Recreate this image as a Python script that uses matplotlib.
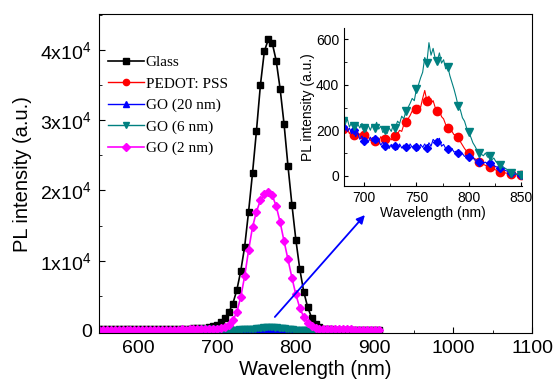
import numpy as np
import matplotlib
matplotlib.use("Agg")
import matplotlib.pyplot as plt
from matplotlib.ticker import MultipleLocator, FuncFormatter

plt.rcParams['font.family'] = ['Liberation Sans', 'DejaVu Sans']
plt.rcParams['mathtext.fontset'] = 'custom'
plt.rcParams['mathtext.rm'] = 'Liberation Sans'
plt.rcParams['mathtext.default'] = 'regular'

# Datos del grafico principal (paso de 5 nm)
wl_main = np.arange(550, 906, 5)
glass = [240, 245, 250, 245, 250, 255, 250, 255, 260, 255, 260, 265, 265,
         270, 270, 275, 280, 285, 290, 300, 310, 320, 330, 350, 370, 400,
         430, 480, 560, 680, 900, 1250, 1800, 2700, 3900, 5800, 8500, 12000,
         17000, 22500, 28500, 35000, 39800, 41500, 41000, 38500, 34500, 29500,
         23500, 18000, 13000, 8800, 5600, 3400, 1900, 1000, 550, 330, 250,
         220, 210, 200, 200, 200, 200, 200, 200, 200, 200, 200, 200, 200]
go_2nm = [200, 195, 205, 200, 190, 200, 205, 195, 200, 210, 200, 195, 205,
          200, 210, 200, 205, 200, 210, 205, 210, 215, 210, 215, 220, 225,
          230, 250, 270, 290, 330, 420, 580, 900, 1500, 2700, 4800, 7800,
          11500, 14800, 17000, 18600, 19500, 19800, 19300, 17800, 15500, 12800,
          10200, 7600, 5200, 3300, 2000, 1200, 750, 480, 350, 290, 260,
          240, 230, 225, 220, 215, 215, 210, 210, 205, 205, 200, 200, 200]

# Datos del recuadro (paso de 2 nm)
wl_inset = np.arange(680, 851, 2)
go_6nm = [240, 225, 250, 215, 232, 220, 205, 228, 210, 230, 208, 195, 222, 200,
          226, 212, 235, 205, 218, 190, 200, 185, 210, 195, 225, 212, 240, 230,
          262, 250, 285, 300, 318, 340, 330, 380, 400, 430, 455, 520, 495, 585,
          530, 560, 515, 505, 540, 495, 510, 470, 480, 440, 410, 380, 345, 305,
          290, 255, 240, 210, 192, 170, 145, 130, 112, 102, 95, 88, 100, 82,
          85, 70, 78, 62, 55, 48, 40, 35, 30, 22, 14, 12, 9, 6, 5, 4]
pedot = [205, 195, 210, 185, 200, 180, 192, 172, 185, 165, 178, 160, 172, 155,
         168, 152, 165, 150, 172, 160, 162, 150, 168, 158, 165, 175, 185, 200,
         195, 225, 235, 250, 265, 285, 275, 295, 310, 300, 340, 375, 330, 350,
         320, 330, 300, 285, 290, 260, 250, 225, 212, 200, 195, 180, 182, 172,
         150, 135, 120, 108, 98, 88, 80, 75, 68, 62, 55, 50, 46, 42,
         40, 34, 30, 25, 20, 18, 15, 13, 12, 10, 9, 8, 7, 6, 5, 4]
go_20nm = [215, 225, 195, 210, 185, 200, 172, 190, 160, 175, 152, 165, 148, 170,
           150, 160, 145, 155, 135, 148, 133, 140, 120, 138, 118, 130, 115, 140,
           122, 135, 128, 115, 140, 125, 135, 128, 112, 138, 125, 140, 120, 145,
           130, 160, 150, 147, 165, 130, 138, 120, 116, 110, 120, 104, 108, 102,
           92, 98, 85, 90, 84, 75, 80, 68, 70, 62, 65, 55, 60, 52,
           58, 48, 45, 40, 38, 36, 30, 26, 22, 17, 13, 11, 9, 7, 5, 4]

TEAL = '#008080'

fig = plt.figure(figsize=(5.56, 3.82), dpi=100)
ax = fig.add_axes([0.178, 0.128, 0.779, 0.835])

ax.plot(wl_main, glass, '-s', color='black', ms=4.2, lw=1.2, label='Glass')
ax.plot(wl_inset, pedot, '-o', color='red', ms=3, lw=1, label='PEDOT: PSS')
ax.plot(wl_inset, go_20nm, '-^', color='blue', ms=2.5, lw=1, label='GO (20 nm)')
ax.plot(wl_inset, go_6nm, '-v', color=TEAL, ms=4, lw=1, label='GO (6 nm)')
ax.plot(wl_main, go_2nm, '-D', color='#ff00ff', ms=3.8, lw=1.2, label='GO (2 nm)')

ax.set_xlim(550, 1100)
ax.set_ylim(-300, 45100)
ax.xaxis.set_major_locator(MultipleLocator(100))
ax.xaxis.set_minor_locator(MultipleLocator(50))
ax.yaxis.set_major_locator(MultipleLocator(10000))
ax.yaxis.set_minor_locator(MultipleLocator(5000))
ax.yaxis.set_major_formatter(FuncFormatter(
    lambda v, p: '0' if v == 0 else f'{int(round(v / 1e4))}x10$^{{4}}$'))
ax.tick_params(which='both', direction='in', labelsize=14)
ax.tick_params(which='major', length=4, pad=5)
ax.tick_params(which='minor', length=2.5)
ax.set_xlabel('Wavelength (nm)', fontsize=14.5, labelpad=2)
ax.set_ylabel('PL intensity (a.u.)', fontsize=14.5, labelpad=6)

leg = ax.legend(loc='upper left', bbox_to_anchor=(0.02, 0.87), frameon=False,
                prop={'family': 'Liberation Serif', 'size': 11}, handlelength=2.4,
                handletextpad=0.1, labelspacing=0.5, borderaxespad=0, borderpad=0)
for h in leg.legend_handles:
    h.set_markersize(4.5)

ax.annotate('', xy=(890, 16800), xytext=(771, 1700),
            arrowprops=dict(arrowstyle='-|>', color='blue', lw=1.3,
                            mutation_scale=12))

# Recuadro
ins = fig.add_axes([0.619, 0.513, 0.320, 0.414])
ins.patch.set_alpha(0)
ins.plot(wl_inset, pedot, '-o', color='red', ms=6, lw=0.8, markevery=5)
ins.plot(wl_inset, go_20nm, '-D', color='blue', ms=4.5, lw=0.8, markevery=5)
ins.plot(wl_inset, go_6nm, '-v', color=TEAL, ms=5.5, lw=0.8, markevery=5)
ins.set_xlim(681, 851)
ins.set_ylim(-45, 650)
ins.spines['top'].set_visible(False)
ins.spines['right'].set_visible(False)
ins.xaxis.set_major_locator(MultipleLocator(50))
ins.xaxis.set_minor_locator(MultipleLocator(25))
ins.yaxis.set_major_locator(MultipleLocator(200))
ins.yaxis.set_minor_locator(MultipleLocator(100))
ins.tick_params(which='both', direction='in', labelsize=10)
ins.tick_params(which='major', length=3)
ins.tick_params(which='minor', length=2)
ins.set_xlabel('Wavelength (nm)', fontsize=10, labelpad=1)
ins.set_ylabel('PL intensity (a.u.)', fontsize=10, labelpad=1)

fig.savefig('out.png', dpi=100)
